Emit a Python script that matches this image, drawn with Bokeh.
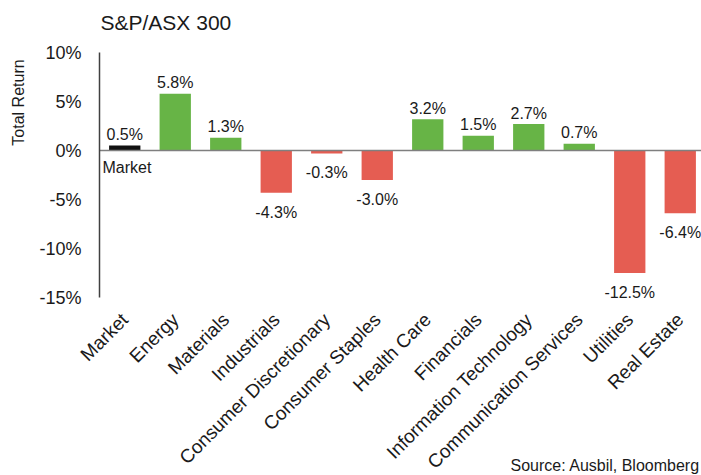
from bokeh.plotting import figure
from bokeh.models import Range1d, FixedTicker, PrintfTickFormatter, ColumnDataSource
from bokeh.embed import file_html
from bokeh.resources import INLINE
from bokeh.core.properties import value
from math import pi

chart_title = "S&P/ASX 300"
y_label = "Total Return"
source_note = "Source: Ausbil, Bloomberg"
categories = ["Market", "Energy", "Materials", "Industrials", "Consumer Discretionary",
              "Consumer Staples", "Health Care", "Financials", "Information Technology",
              "Communication Services", "Utilities", "Real Estate"]
returns = [0.5, 5.8, 1.3, -4.3, -0.3, -3.0, 3.2, 1.5, 2.7, 0.7, -12.5, -6.4]
y_ticks = [-15, -10, -5, 0, 5, 10]

FONT = "Liberation Sans"
GREEN = "#67B446"
RED = "#E55D52"
BLACK = "#111111"
TXT = "#1a1a1a"

W, H = 701, 475
LEFT, TOP, BOTTOM = 99, 52, 178          # axis-area margins in pixels
PX_PER_CAT = 50.5
PX_PER_UNIT = (H - TOP - BOTTOM) / (max(y_ticks) - min(y_ticks))
y_lo = min(y_ticks) - BOTTOM / PX_PER_UNIT
y_hi = max(y_ticks) + TOP / PX_PER_UNIT
x_axis_at = -0.5
x_lo = x_axis_at - LEFT / PX_PER_CAT
x_hi = x_axis_at + (W - LEFT) / PX_PER_CAT

xs = list(range(len(categories)))
colors = [BLACK if c == "Market" else (GREEN if v >= 0 else RED) for c, v in zip(categories, returns)]
labels = [f"{v:.1f}%" for v in returns]

p = figure(width=W, height=H, output_backend="svg", toolbar_location=None,
           x_range=Range1d(x_lo, x_hi), y_range=Range1d(y_lo, y_hi),
           min_border_left=0, min_border_right=0, min_border_top=0, min_border_bottom=0)
p.outline_line_color = None
p.xgrid.visible = False
p.ygrid.visible = False
p.xaxis.visible = False
p.background_fill_color = "white"
p.border_fill_color = "white"

p.vbar(x=xs, top=returns, width=0.62, color=colors, line_color=None)
p.segment(x0=[x_axis_at], y0=[0], x1=[x_hi], y1=[0], line_color="#7f7f7f", line_width=1.5)

pos = ColumnDataSource(dict(x=[x for x, v in zip(xs, returns) if v >= 0],
                            y=[v for v in returns if v >= 0],
                            t=[l for l, v in zip(labels, returns) if v >= 0]))
neg = ColumnDataSource(dict(x=[x for x, v in zip(xs, returns) if v < 0],
                            y=[v for v in returns if v < 0],
                            t=[l for l, v in zip(labels, returns) if v < 0]))
p.text(x="x", y="y", text="t", source=pos, text_align="center", text_baseline="alphabetic",
       y_offset=-11, text_font=value(FONT), text_font_size="16px", text_color=TXT)
p.text(x="x", y="y", text="t", source=neg, text_align="center", text_baseline="top",
       y_offset=11, text_font=value(FONT), text_font_size="16px", text_color=TXT)
p.text(x=[x_axis_at], y=[0], text=[categories[0]], text_align="left", text_baseline="top",
       x_offset=3, y_offset=8, text_font=value(FONT), text_font_size="16px", text_color=TXT)

# category labels, rotated 45 degrees under the axis
p.text(x=xs, y=[min(y_ticks)] * len(xs), text=categories, angle=pi / 4,
       text_align="right", text_baseline="middle", x_offset=0, y_offset=19,
       text_font=value(FONT), text_font_size="19px", text_color=TXT)

# chart title, axis title and source note
p.text(x=[x_axis_at], y=[max(y_ticks)], text=[chart_title], text_align="left",
       text_baseline="middle", x_offset=1, y_offset=-30,
       text_font=value(FONT), text_font_size="21px", text_color=TXT)
p.text(x=[x_axis_at], y=[max(y_ticks)], text=[y_label], angle=pi / 2, text_align="center",
       text_baseline="middle", x_offset=-81, y_offset=50,
       text_font=value(FONT), text_font_size="16px", text_color=TXT)
p.text(x=[x_axis_at], y=[min(y_ticks)], text=[source_note], text_align="left",
       text_baseline="middle", x_offset=411, y_offset=168,
       text_font=value(FONT), text_font_size="16px", text_color=TXT)

ya = p.yaxis[0]
ya.fixed_location = x_axis_at
ya.bounds = (min(y_ticks), max(y_ticks))
ya.ticker = FixedTicker(ticks=y_ticks)
ya.formatter = PrintfTickFormatter(format="%d%%")
ya.axis_line_color = "#404040"
ya.axis_line_width = 1.5
ya.major_tick_line_color = None
ya.minor_tick_line_color = None
ya.major_tick_out = 0
ya.major_tick_in = 0
ya.major_label_standoff = 18
ya.major_label_text_font = FONT
ya.major_label_text_font_size = "18px"
ya.major_label_text_color = TXT

open("out.html", "w").write(file_html(p, INLINE))
